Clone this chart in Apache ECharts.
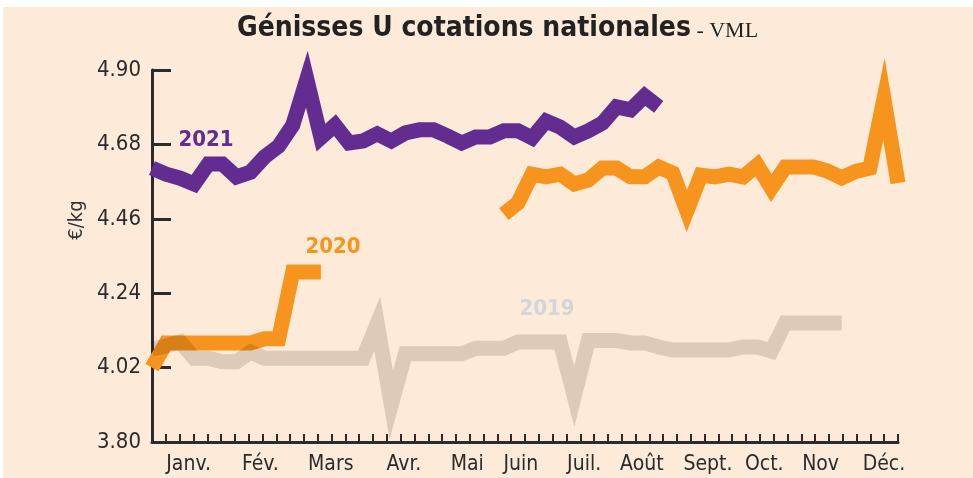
<!DOCTYPE html>
<html>
<head>
<meta charset="utf-8">
<title>Génisses U cotations nationales</title>
<script src="https://cdn.jsdelivr.net/npm/echarts@6.0.0/dist/echarts.min.js"></script>
<style>
  html, body { margin: 0; padding: 0; background: #fff; }
  .main-chart { position: relative; width: 973px; height: 478px; overflow: hidden; }
  .fond { position: absolute; left: 3px; top: 7px; right: 0; bottom: 0; background: #feead8; }
  .echart-main { position: absolute; left: 0; top: 0; width: 973px; height: 478px; }
</style>
</head>
<body>
<div class="main-chart">
  <div class="fond"></div>
  <!-- Génisses U cotations nationales -->
  <div id="myChart" class="echart-main"></div>
</div>
<script>
// mois affichés sous l'axe (position en semaines depuis la 1re)
const months = ['Janv.', 'Fév.', 'Mars', 'Avr.', 'Mai', 'Juin', 'Juil.', 'Août', 'Sept.', 'Oct.', 'Nov', 'Déc.'];
const monthPos = [2.6, 7.7, 12.7, 17.9, 22.4, 26.2, 30.7, 34.8, 39.5, 43.5, 47.5, 52.0];
const yTicks = [3.80, 4.02, 4.24, 4.46, 4.68, 4.90];

// cotations hebdo €/kg, index 0 = semaine 1
const y2019 = [4.075, 4.084, 4.096, 4.048, 4.048, 4.037, 4.037, 4.066, 4.048, 4.048,
  4.048, 4.048, 4.048, 4.048, 4.048, 4.048, 4.150, 3.910, 4.061, 4.061,
  4.061, 4.061, 4.061, 4.077, 4.077, 4.077, 4.096, 4.096, 4.096, 4.096,
  3.935, 4.100, 4.100, 4.100, 4.093, 4.093, 4.081, 4.072, 4.072, 4.072,
  4.072, 4.072, 4.081, 4.081, 4.069, 4.152, 4.152, 4.152, 4.152, 4.152];
const y2020 = [4.020, 4.093, 4.093, 4.093, 4.093, 4.093, 4.093, 4.093, 4.105, 4.105,
  4.303, 4.303, 4.303, null, null, null, null, null, null, null,
  null, null, null, null, null, 4.474, 4.507, 4.592, 4.584, 4.592,
  4.563, 4.575, 4.610, 4.610, 4.584, 4.584, 4.613, 4.595, 4.483, 4.589,
  4.584, 4.592, 4.584, 4.619, 4.551, 4.613, 4.613, 4.613, 4.601, 4.581,
  4.600, 4.610, 4.814, 4.566];
const y2021 = [4.610, 4.592, 4.580, 4.563, 4.622, 4.622, 4.584, 4.598, 4.643, 4.675,
  4.737, 4.873, 4.700, 4.737, 4.684, 4.690, 4.711, 4.690, 4.714, 4.723,
  4.723, 4.705, 4.684, 4.702, 4.702, 4.720, 4.720, 4.699, 4.749, 4.731,
  4.702, 4.720, 4.743, 4.791, 4.782, 4.823, 4.791];

const font = "'DejaVu Sans Condensed', 'DejaVu Sans', sans-serif";

function toPoints(arr) {
  return arr.map((v, i) => [i, v]);
}

function lineSerie(name, arr, color, z) {
  return {
    name: name,
    type: 'line',
    xAxisIndex: 0,
    data: toPoints(arr),
    symbol: 'none',
    connectNulls: false,
    clip: false,
    z: z,
    lineStyle: { color: color, width: 15, cap: 'butt', join: 'miter', miterLimit: 20 },
  };
}

const myChart = echarts.init(document.getElementById('myChart'), null, { renderer: 'canvas' });

var option = {
  animation: false,
  backgroundColor: 'transparent',
  title: {
    left: 232,
    top: 10,
    text: '{a|Génisses U cotations nationales}{b| - VML}',
    textStyle: {
      rich: {
        a: { fontFamily: font, fontWeight: 'bold', fontSize: 28, color: '#222' },
        b: { fontFamily: "'Liberation Serif', serif", fontWeight: 'normal', fontSize: 22, color: '#222', padding: [4, 0, 0, 0] },
      },
    },
  },
  grid: { left: 152, right: 75, top: 70, bottom: 36 },
  xAxis: [
    {
      // axe des données (semaines) + libellés des mois
      type: 'value',
      position: 'bottom',
      min: 0,
      max: 53,
      axisLine: { show: false },
      axisTick: { show: false },
      splitLine: { show: false },
      axisLabel: {
        customValues: monthPos,
        formatter: function (v) {
          return months[monthPos.indexOf(v)] || '';
        },
        margin: 12,
        fontFamily: font,
        fontSize: 21,
        color: '#2b2b2b',
      },
    },
    {
      // graduations fines
      type: 'value',
      position: 'bottom',
      min: 0,
      max: 54,
      interval: 1,
      axisLine: { show: true, lineStyle: { color: '#2b2b2b', width: 3 } },
      axisTick: { show: true, inside: true, length: 8, lineStyle: { color: '#2b2b2b', width: 2 } },
      axisLabel: { show: false },
      splitLine: { show: false },
    },
  ],
  yAxis: {
    type: 'value',
    min: 3.8,
    max: 4.9,
    axisLine: { show: true, lineStyle: { color: '#2b2b2b', width: 3 } },
    axisTick: { show: true, inside: true, length: 19, customValues: yTicks, lineStyle: { color: '#2b2b2b', width: 3 } },
    splitLine: { show: false },
    axisLabel: {
      customValues: yTicks,
      formatter: function (v) { return v.toFixed(2); },
      margin: 11,
      fontFamily: font,
      fontSize: 22,
      color: '#2b2b2b',
    },
  },
  graphic: [
    { type: 'text', x: 77, y: 220, rotation: Math.PI / 2,
      style: { text: '€/kg', fill: '#333', font: "20px " + font, textAlign: 'center', textVerticalAlign: 'middle' } },
    { type: 'text', x: 206, y: 140,
      style: { text: '2021', fill: '#632c91', font: "bold 22px " + font, textAlign: 'center', textVerticalAlign: 'middle' } },
    { type: 'text', x: 333, y: 247,
      style: { text: '2020', fill: '#f7941d', font: "bold 22px " + font, textAlign: 'center', textVerticalAlign: 'middle' } },
    { type: 'text', x: 547, y: 309,
      style: { text: '2019', fill: '#d2d6da', font: "bold 22px " + font, textAlign: 'center', textVerticalAlign: 'middle' } },
  ],
  series: [
    lineSerie('2020', y2020, '#f7941d', 2),
    lineSerie('2021', y2021, '#632c91', 3),
    lineSerie('2019', y2019, 'rgba(30,10,0,0.14)', 4),
  ],
};
option && myChart.setOption(option);
</script>
</body>
</html>
